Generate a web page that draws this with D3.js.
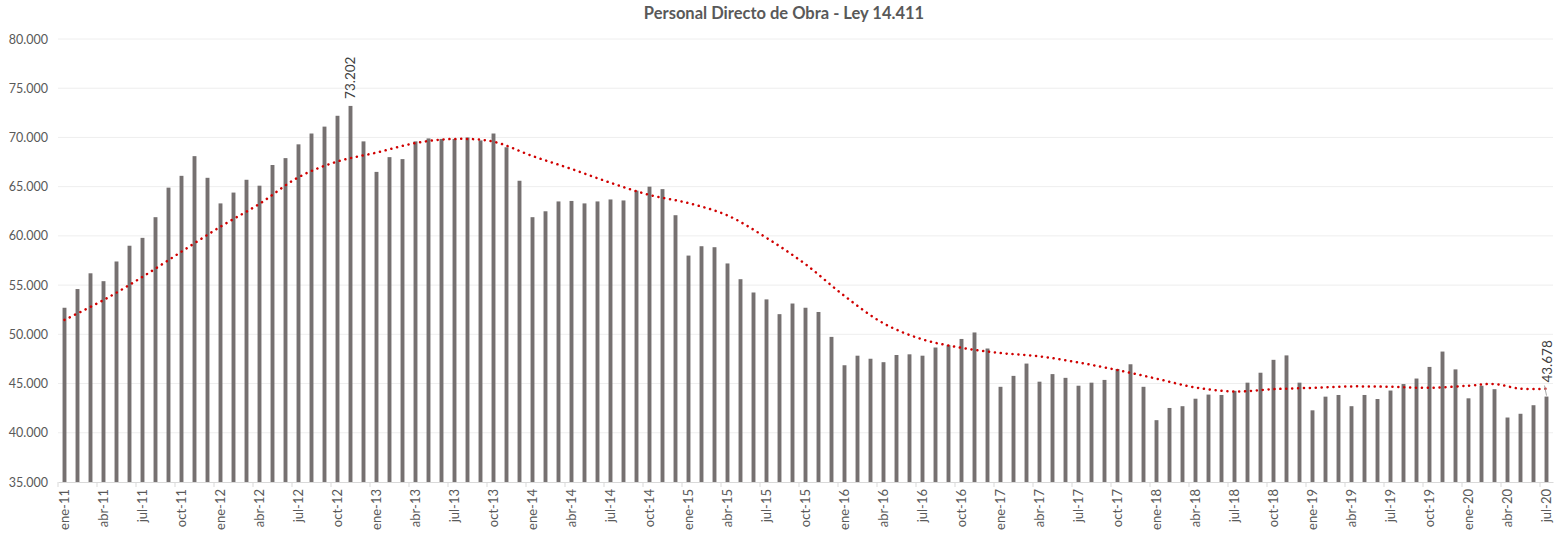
<!DOCTYPE html>
<html>
<head>
<meta charset="utf-8">
<script src="https://cdn.jsdelivr.net/npm/d3@7"></script>
<style>
  body { margin: 0; background: #fff; }
  svg text { font-family: Lato, "Open Sans", sans-serif; }
</style>
</head>
<body>
<svg id="chart"></svg>
<script>
const meses = ["ene", "feb", "mar", "abr", "may", "jun", "jul", "ago", "sep", "oct", "nov", "dic"];
const anios = ["11", "12", "13", "14", "15", "16", "17", "18", "19", "20"];

// personal directo de obra, mensual ene-11 .. jul-20
const valores = [
    52700, 54600, 56200, 55400, 57400, 59000, 59800, 61900, 64900, 66100, 68100, 65900,
    63300, 64400, 65700, 65100, 67200, 67900, 69300, 70400, 71100, 72200, 73202, 69600,
    66500, 68000, 67800, 69600, 69900, 69850, 69850, 70000, 69700, 70400, 69000, 65600,
    61900, 62500, 63500, 63550, 63300, 63500, 63700, 63600, 64600, 65000, 64750, 62100,
    58000, 58950, 58850, 57200, 55600, 54250, 53550, 52050, 53130, 52700, 52270, 49740,
    46860, 47830, 47520, 47170, 47900, 47970, 47830, 48660, 48900, 49530, 50190, 48560,
    44670, 45780, 47030, 45190, 45960, 45580, 44780, 45090, 45370, 46480, 46960, 44670,
    41280, 42520, 42700, 43460, 43880, 43840, 44260, 45090, 46100, 47410, 47860, 45090,
    42280, 43670, 43840, 42700, 43840, 43430, 44290, 44950, 45510, 46690, 48250, 46440,
    43500, 44780, 44430, 41550, 41930, 42800, 43678
];

// linea de tendencia
const tendIdx = [0, 3, 6, 9, 12, 15, 18, 21, 24, 27, 30, 33, 36, 39, 42, 45, 48, 51, 54, 57,
    60, 63, 66, 69, 72, 75, 78, 81, 84, 87, 90, 93, 96, 99, 102, 105, 108, 110, 112, 114];
const tendVal = [51470, 53480, 55840, 58400, 60940, 63260, 65960, 67560, 68460, 69430, 69850, 69570,
    68110, 66800, 65400, 64160, 63330, 62080, 59800, 57120, 53900, 51120, 49490, 48630,
    48100, 47760, 47140, 46370, 45500, 44600, 44190, 44430, 44570, 44710, 44670, 44570,
    44780, 44950, 44470, 44470];

const yTicks = [35000, 40000, 45000, 50000, 55000, 60000, 65000, 70000, 75000, 80000];
const etiquetas = [22, 114]; // barras con etiqueta

const categorias = [];
anios.forEach(a => meses.forEach(m => categorias.push(m + "-" + a)));
categorias.length = valores.length;

const width = 1558, height = 535;
const m = { left: 58, right: 1553, top: 39, bottom: 482 };

const svg = d3.select("#chart").attr("width", width).attr("height", height);

const x = d3.scaleBand()
    .domain(d3.range(valores.length))
    .range([m.left, m.right])
    .paddingInner(0.7)
    .paddingOuter(0.35);

const y = d3.scaleLinear()
    .domain([35000, 80000])
    .range([m.bottom, m.top]);

const loc = d3.formatLocale({ decimal: ",", thousands: ".", grouping: [3], currency: ["$", ""] });
const fmt = loc.format(",");

// grid
svg.append("g")
    .selectAll("line")
    .data(yTicks.slice(1))
    .join("line")
    .attr("x1", m.left).attr("x2", m.right)
    .attr("y1", d => y(d)).attr("y2", d => y(d))
    .attr("stroke", "#eeeeee")
    .attr("stroke-width", 1);

// eje y
const yAxis = svg.append("g")
    .attr("transform", "translate(" + m.left + ",0)")
    .call(d3.axisLeft(y).tickValues(yTicks).tickFormat(fmt).tickSize(0).tickPadding(10));
yAxis.select(".domain").remove();
yAxis.selectAll("text")
    .style("font-size", "12.5px")
    .attr("fill", "#595959");

// barras
svg.append("g")
    .selectAll("rect")
    .data(valores)
    .join("rect")
    .attr("x", (d, i) => x(i))
    .attr("width", x.bandwidth())
    .attr("y", d => y(d))
    .attr("height", d => y(35000) - y(d))
    .attr("fill", "#767171");

// eje x
const step = x.step();
const off = (step - x.bandwidth()) / 2;
const xAxis = svg.append("g")
    .attr("transform", "translate(0," + m.bottom + ")")
    .call(d3.axisBottom(x)
        .tickValues(d3.range(0, valores.length, 3))
        .tickFormat(i => categorias[i])
        .tickSize(0)
        .tickPadding(0));
xAxis.select(".domain").attr("stroke", "#d9d9d9");
xAxis.selectAll("text")
    .attr("transform", "rotate(-90)")
    .attr("text-anchor", "end")
    .attr("x", -7)
    .attr("y", 0)
    .attr("dy", "0.35em")
    .style("font-size", "13px")
    .attr("fill", "#595959");

svg.append("g")
    .selectAll("line")
    .data(d3.range(0, valores.length, 3))
    .join("line")
    .attr("x1", i => x(i) - off).attr("x2", i => x(i) - off)
    .attr("y1", m.bottom).attr("y2", m.bottom + 5)
    .attr("stroke", "#d9d9d9");

// tendencia
const linea = d3.line()
    .x((d, k) => x(tendIdx[k]) + x.bandwidth() / 2)
    .y(d => y(d))
    .curve(d3.curveCatmullRom.alpha(0.5));

svg.append("path")
    .datum(tendVal)
    .attr("d", linea)
    .attr("fill", "none")
    .attr("stroke", "#d00000")
    .attr("stroke-width", 2.5)
    .attr("stroke-linecap", "round")
    .attr("stroke-dasharray", "0.1 5.8");

// etiquetas de datos
etiquetas.forEach(i => {
    const cx = x(i) + x.bandwidth() / 2;
    const last = i === valores.length - 1;
    if (last) {
        svg.append("line")
            .attr("x1", cx).attr("y1", y(valores[i]) - 1)
            .attr("x2", cx - 2).attr("y2", y(valores[i]) - 11)
            .attr("stroke", "#a6a6a6");
    }
    svg.append("text")
        .attr("transform", "translate(" + (cx + (last ? 1 : 0)) + "," + (y(valores[i]) - (last ? 14 : 7)) + ") rotate(-90)")
        .attr("dy", "0.35em")
        .style("font-size", "13.5px")
        .attr("fill", "#404040")
        .text(fmt(valores[i]));
});

// titulo
svg.append("text")
    .attr("x", 784)
    .attr("y", 19)
    .attr("text-anchor", "middle")
    .style("font-size", "16.5px")
    .style("font-weight", "bold")
    .attr("fill", "#595959")
    .text("Personal Directo de Obra - Ley 14.411");
</script>
</body>
</html>
